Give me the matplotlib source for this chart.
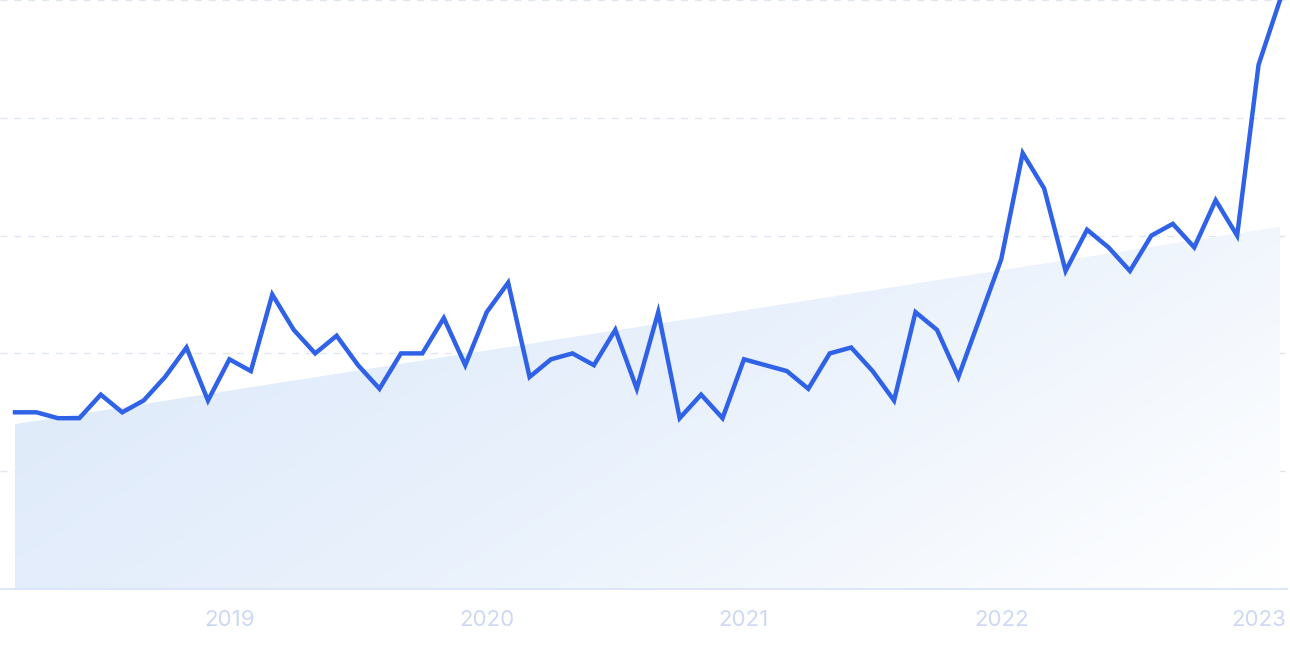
import numpy as np
import matplotlib
matplotlib.use('Agg')
import matplotlib.pyplot as plt
from matplotlib.colors import LinearSegmentedColormap

# monthly values, Mar 2018 - Feb 2023
months = [
    '2018-03', '2018-04', '2018-05', '2018-06', '2018-07', '2018-08', '2018-09', '2018-10', '2018-11', '2018-12',
    '2019-01', '2019-02', '2019-03', '2019-04', '2019-05', '2019-06', '2019-07', '2019-08', '2019-09', '2019-10', '2019-11', '2019-12',
    '2020-01', '2020-02', '2020-03', '2020-04', '2020-05', '2020-06', '2020-07', '2020-08', '2020-09', '2020-10', '2020-11', '2020-12',
    '2021-01', '2021-02', '2021-03', '2021-04', '2021-05', '2021-06', '2021-07', '2021-08', '2021-09', '2021-10', '2021-11', '2021-12',
    '2022-01', '2022-02', '2022-03', '2022-04', '2022-05', '2022-06', '2022-07', '2022-08', '2022-09', '2022-10', '2022-11', '2022-12',
    '2023-01', '2023-02',
]
values = [30, 30, 29, 29, 33, 30, 32, 36, 41, 32,
          39, 37, 50, 44, 40, 43, 38, 34, 40, 40, 46, 38,
          47, 52, 36, 39, 40, 38, 44, 34, 47, 29, 33, 29,
          39, 38, 37, 34, 40, 41, 37, 32, 47, 44, 36, 46,
          56, 74, 68, 54, 61, 58, 54, 60, 62, 58, 66, 60,
          89, 100]
# trend line start / end
trend = [28, 61.5]

x = np.arange(len(values))
tick_pos = [i for i, m in enumerate(months) if m.endswith('-01')]
tick_labels = [months[i][:4] for i in tick_pos]

fig = plt.figure(figsize=(12.9, 6.45), dpi=100)
ax = fig.add_axes([0, 56 / 645, 1287 / 1290, 589 / 645])
step = 1265 / 59
ax.set_xlim(-15 / step, (1287 - 15) / step)
ax.set_ylim(0, 100)

# gradient trend area
trend_y = np.interp(x, [x[0], x[-1]], trend)
poly = ax.fill_between(x, 0, trend_y, facecolor='none', edgecolor='none')
nx, ny = 300, 150
gx, gy = np.meshgrid(np.linspace(0, 1, nx), np.linspace(1, 0, ny))
t = (gx + 0.45 * (1 - gy)) / 1.45
cmap = LinearSegmentedColormap.from_list('g', ['#dbe8fa', '#e9f1fc', '#ffffff'])
im = ax.imshow(t, cmap=cmap, vmin=0, vmax=1, aspect='auto',
               extent=[x[0], x[-1], 0, max(trend)], zorder=1, interpolation='bilinear')
im.set_clip_path(poly.get_paths()[0], transform=ax.transData)

# grid
for g in [20, 40, 60, 80, 100]:
    ax.axhline(g, color='#dfe6f0', lw=1, ls=(0, (5, 5)), zorder=0)

ax.plot(x, values, color='#2f62e6', lw=3.2, solid_joinstyle='miter', zorder=3)

for s in ['top', 'right', 'left']:
    ax.spines[s].set_visible(False)
ax.spines['bottom'].set_color('#d8e3f6')
ax.spines['bottom'].set_linewidth(1.2)
ax.set_yticks([])
ax.set_xticks(tick_pos)
ax.set_xticklabels(tick_labels, fontsize=16, color='#cdd8f4', family=['Inter', 'DejaVu Sans'])
ax.tick_params(axis='x', length=0, pad=15)

fig.savefig('out.png', dpi=100)
plt.close()
